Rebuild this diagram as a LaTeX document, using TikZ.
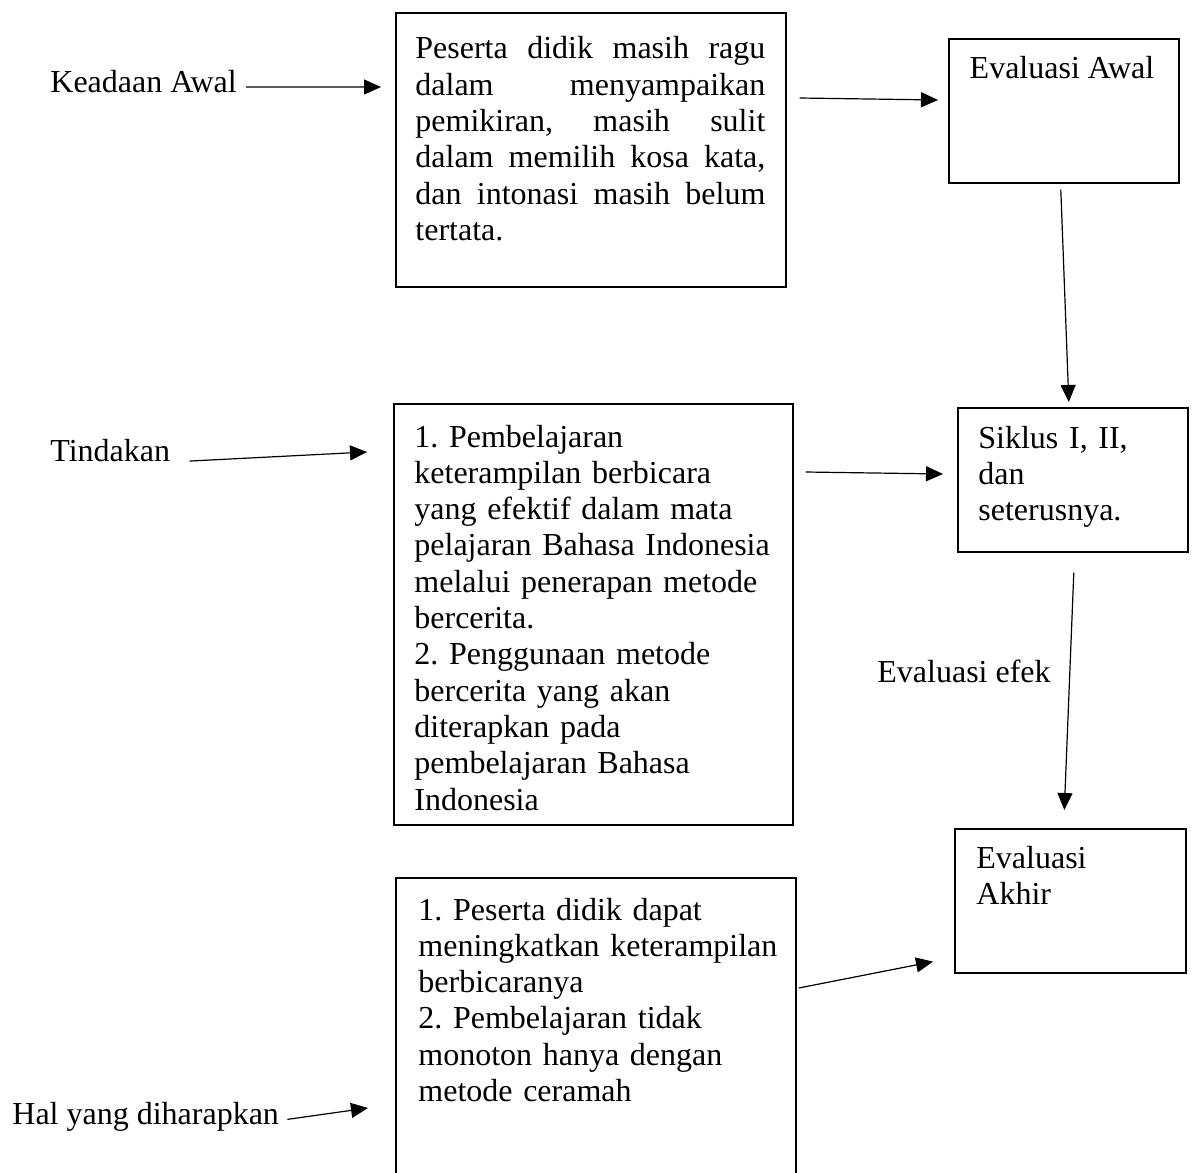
\documentclass[tikz,border=0pt]{standalone}
\usepackage{fontspec}
\setmainfont{Liberation Serif}
\usetikzlibrary{arrows.meta,calc}
\frenchspacing
\newcommand{\baris}[1]{\leavevmode\hbox to 175pt{#1}}
\tikzset{
    kotak/.style={draw, line width=0.8pt, anchor=north west, inner sep=0pt},
    teks/.style={anchor=base west, inner sep=0pt},
    isi/.style={anchor=base west, inner sep=0pt, align=left, text width=#1},
    panah/.style={-{Triangle[length=8.5pt,width=7.5pt]}, line width=0.6pt}
}

\begin{document}
\begin{tikzpicture}[x=0.5pt,y=-0.5pt,font=\fontsize{16pt}{18.15pt}\selectfont]
	\useasboundingbox (0,0) rectangle (1193,1172);
	% kotak
	\node[kotak, minimum width=195pt, minimum height=137pt] (awal) at (395,12) {};
	\node[kotak, minimum width=115pt, minimum height=72pt] (evawal) at (948,38) {};
	\node[kotak, minimum width=199.5pt, minimum height=210.5pt] (tindak) at (393,403) {};
	\node[kotak, minimum width=115pt, minimum height=72pt] (siklus) at (957,407) {};
	\node[kotak, minimum width=115.5pt, minimum height=72pt] (evakhir) at (954,828) {};
	\node[anchor=north west, inner sep=0pt, minimum width=199.5pt, minimum height=147pt] (harap) at (396,878) {};
	\draw[line width=0.8pt] (harap.south west) -- (harap.north west) -- (harap.north east) -- (harap.south east);

	% teks
	\node[teks] (keadaan) at (50,93) {Keadaan Awal};
	\node[teks] (tindakan) at (50,461) {Tindakan};
	\node[teks] (harapan) at (12,1124) {Hal yang diharapkan};
	\node[teks] (efek) at (877,682) {Evaluasi efek};
	\node[isi=175pt] (awaltxt) at (415,59) {\baris{Peserta \hfill didik \hfill masih \hfill ragu}\\
		\baris{dalam \hfill menyampaikan}\\
		\baris{pemikiran, \hfill masih \hfill sulit}\\
		\baris{dalam \hfill memilih \hfill kosa \hfill kata,}\\
		\baris{dan \hfill intonasi \hfill masih \hfill belum}\\
		tertata.};
	\node[anchor=base, inner sep=0pt] (evawaltxt) at (1062,79) {Evaluasi Awal};
	\node[isi=110pt] (siklustxt) at (978,448) {Siklus I, II,\\ dan\\ seterusnya.};
	\node[isi=180pt] (tindaktxt) at (414,447) {1. Pembelajaran\\
		keterampilan berbicara\\
		yang efektif dalam mata\\
		pelajaran Bahasa Indonesia\\
		melalui penerapan metode\\
		bercerita.\\
		2. Penggunaan metode\\
		bercerita yang akan\\
		diterapkan pada\\
		pembelajaran Bahasa\\
		Indonesia};
	\node[isi=100pt] (evakhirtxt) at (976,868) {Evaluasi\\ Akhir};
	\node[isi=185pt] (haraptxt) at (418,920) {1. Peserta didik dapat\\
		meningkatkan keterampilan\\
		berbicaranya\\
		2. Pembelajaran tidak\\
		monoton hanya dengan\\
		metode ceramah};

	% panah
	\draw[panah] ($(keadaan.east)+(9,5)$) -- ($(awal.north west)+(-14,75)$);
	\draw[panah] ($(awal.north east)+(13,86)$) -- ($(evawal.north west)+(-10,62)$);
	\draw[panah] ($(evawal.south)+(-3,6)$) -- ($(siklus.north)+(-4,-5)$);
	\draw[panah] ($(tindakan.east)+(19,11)$) -- ($(tindak.north west)+(-26,49)$);
	\draw[panah] ($(tindak.north east)+(12,69)$) -- ($(siklus.north west)+(-14,67)$);
	\draw[panah] ($(siklus.south)+(1,20)$) -- ($(evakhir.north)+(-6,-18)$);
	\draw[panah] ($(harap.north east)+(3,110)$) -- ($(evakhir.south west)+(-21,-12)$);
	\draw[panah] ($(harapan.east)+(8,3)$) -- ($(harap.north west)+(-28,230)$);
\end{tikzpicture}
\end{document}
